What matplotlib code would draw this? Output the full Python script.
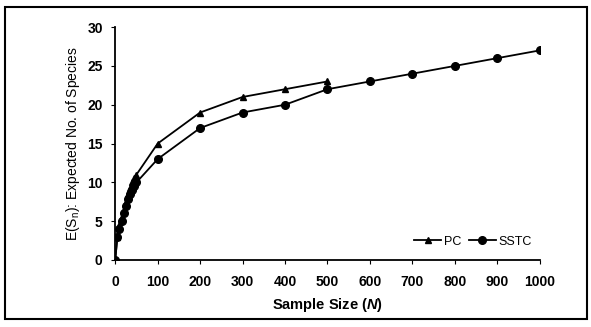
import matplotlib
matplotlib.use("Agg")
import matplotlib.pyplot as plt
from matplotlib.patches import Rectangle

# sample sizes and expected species counts
pc_n = [0, 5, 10, 15, 20, 25, 30, 35, 40, 45, 50, 100, 200, 300, 400, 500]
pc_s = [0, 3, 4.5, 5.5, 6.5, 7.5, 8.5, 9.3, 10, 10.5, 11, 15, 19, 21, 22, 23]

sstc_n = [0, 5, 10, 15, 20, 25, 30, 35, 40, 45, 50, 100, 200, 300, 400, 500,
          600, 700, 800, 900, 1000]
sstc_s = [0, 3, 4, 5, 6, 7, 7.8, 8.5, 9, 9.5, 10, 13, 17, 19, 20, 22,
          23, 24, 25, 26, 27]

x_ticks = [0, 100, 200, 300, 400, 500, 600, 700, 800, 900, 1000]
y_ticks = [0, 5, 10, 15, 20, 25, 30]

plt.rcParams["font.family"] = ["Liberation Sans", "DejaVu Sans"]
plt.rcParams["mathtext.fontset"] = "custom"
plt.rcParams["mathtext.rm"] = "Liberation Sans"
plt.rcParams["mathtext.it"] = "Liberation Sans:italic:bold"

fig = plt.figure(figsize=(5.91, 3.27), dpi=100)
ax = fig.add_axes([0.195, 0.205, 0.718, 0.712])

ax.plot(pc_n, pc_s, color="black", linewidth=1.3, marker="^", markersize=5,
        label="PC")
ax.plot(sstc_n, sstc_s, color="black", linewidth=1.3, marker="o", markersize=5.5,
        label="SSTC")

ax.set_xlim(0, 1000)
ax.set_ylim(0, 30)
ax.set_xticks(x_ticks)
ax.set_yticks(y_ticks)
ax.tick_params(labelsize=10, length=3, width=0.8)
ax.tick_params(axis="x", pad=8)
ax.tick_params(axis="y", pad=6)
for lbl in ax.get_xticklabels() + ax.get_yticklabels():
    lbl.set_fontweight("bold")
ax.spines["top"].set_visible(False)
ax.spines["right"].set_visible(False)
ax.spines["left"].set_linewidth(1.3)
ax.spines["bottom"].set_linewidth(1.3)

ax.set_xlabel("Sample Size ($\\mathit{N}$)", fontsize=10.5, fontweight="bold",
              labelpad=5)
ax.set_ylabel("E(S$_\\mathrm{n}$): Expected No. of Species", fontsize=10, labelpad=4)

ax.legend(loc="lower right", ncol=2, frameon=False, fontsize=9,
          handlelength=2.2, columnspacing=0.6, handletextpad=0.2,
          borderaxespad=0.2, bbox_to_anchor=(1.0, 0.02))

fig.patches.append(Rectangle((0.008, 0.025), 0.985, 0.955, transform=fig.transFigure,
                             fill=False, edgecolor="black", linewidth=1.5))

fig.savefig("out.png", dpi=100)
